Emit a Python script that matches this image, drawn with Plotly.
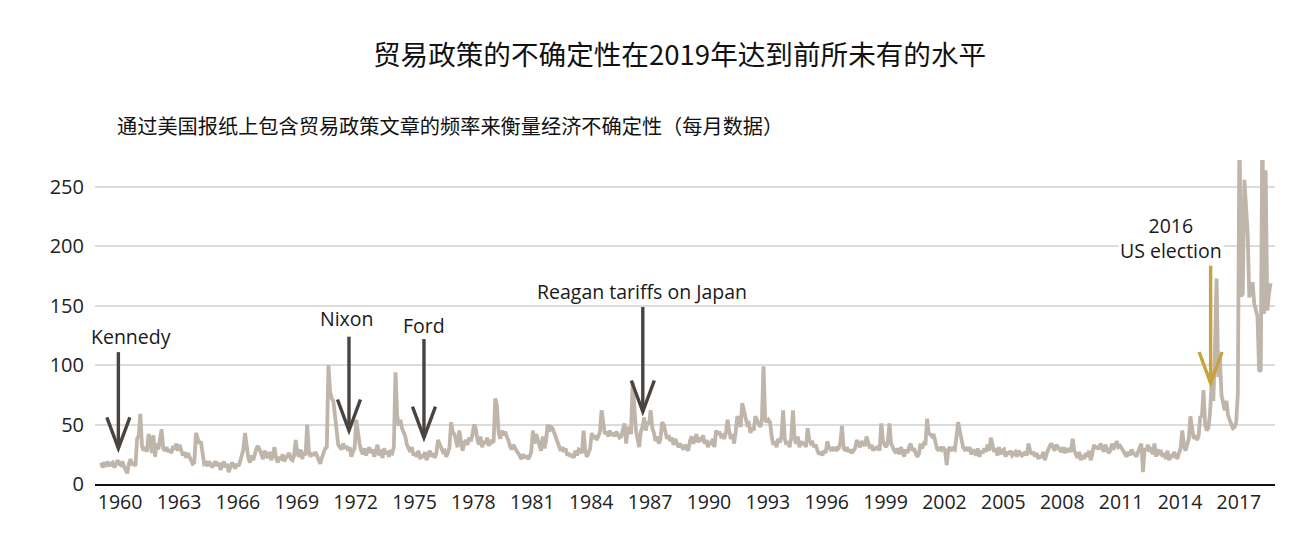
import plotly.graph_objects as go

# ---------------- data ----------------
start_year = 1960
# Trade policy uncertainty index, monthly, Jan 1960 onward
tpu = [
    18, 14, 17, 16, 19, 15, 17, 18, 14, 16, 20, 17,   # 1960
    16, 19, 15, 12, 9, 17, 21, 16, 18, 15, 38, 41,    # 1961
    59, 32, 28, 31, 27, 42, 38, 26, 41, 23, 34, 29,   # 1962
    36, 46, 30, 28, 31, 27, 29, 26, 32, 29, 34, 28,   # 1963
    33, 28, 24, 27, 22, 26, 22, 20, 17, 18, 43, 37,   # 1964
    34, 36, 24, 17, 18, 15, 19, 16, 14, 17, 19, 15,   # 1965
    18, 12, 16, 19, 14, 17, 10, 15, 18, 16, 13, 17,   # 1966
    15, 19, 26, 29, 43, 31, 22, 18, 24, 20, 26, 30,   # 1967
    32, 27, 25, 21, 28, 24, 22, 27, 20, 24, 31, 22,   # 1968
    18, 23, 20, 25, 19, 22, 24, 26, 21, 20, 24, 37,   # 1969
    26, 23, 29, 21, 27, 24, 50, 28, 23, 26, 24, 27,   # 1970
    24, 20, 17, 22, 26, 30, 31, 100, 78, 72, 70, 57,  # 1971
    42, 33, 31, 29, 34, 30, 32, 28, 31, 23, 27, 30,   # 1972
    54, 40, 34, 28, 25, 30, 24, 28, 31, 26, 29, 23,   # 1973
    27, 33, 24, 29, 22, 30, 25, 28, 23, 27, 26, 31,   # 1974
    94, 58, 49, 54, 47, 44, 40, 33, 30, 27, 31, 24,   # 1975
    26, 23, 28, 21, 25, 22, 27, 20, 24, 28, 23, 26,   # 1976
    22, 26, 37, 34, 30, 27, 28, 23, 26, 31, 52, 44,   # 1977
    42, 36, 31, 45, 38, 28, 34, 37, 33, 39, 36, 41,   # 1978
    50, 47, 38, 33, 40, 31, 36, 34, 39, 32, 37, 35,   # 1979
    36, 72, 66, 44, 38, 45, 41, 44, 40, 37, 32, 29,   # 1980
    33, 30, 28, 26, 23, 21, 25, 22, 24, 21, 23, 27,   # 1981
    45, 34, 42, 38, 33, 28, 40, 30, 36, 50, 44, 48,   # 1982
    47, 43, 40, 36, 32, 28, 31, 27, 30, 24, 26, 23,   # 1983
    25, 22, 28, 24, 29, 28, 26, 45, 28, 23, 26, 30,   # 1984
    43, 38, 41, 37, 40, 44, 62, 48, 42, 44, 40, 45,   # 1985
    41, 43, 40, 44, 42, 39, 40, 45, 51, 34, 46, 48,   # 1986
    42, 86, 58, 45, 38, 31, 44, 48, 56, 45, 52, 50,   # 1987
    62, 47, 43, 36, 40, 34, 38, 52, 50, 43, 38, 41,   # 1988
    36, 39, 33, 38, 35, 31, 34, 32, 29, 33, 30, 28,   # 1989
    36, 40, 34, 37, 42, 35, 39, 36, 41, 34, 37, 31,   # 1990
    36, 33, 38, 31, 45, 42, 44, 40, 41, 38, 43, 54,   # 1991
    45, 38, 42, 34, 44, 57, 54, 48, 68, 62, 55, 50,   # 1992
    51, 43, 47, 45, 57, 54, 50, 48, 53, 99, 55, 52,   # 1993
    54, 52, 40, 33, 36, 31, 38, 35, 40, 62, 38, 33,   # 1994
    36, 31, 40, 62, 38, 34, 40, 31, 36, 33, 35, 31,   # 1995
    47, 37, 34, 35, 31, 33, 28, 25, 27, 24, 28, 26,   # 1996
    36, 31, 29, 30, 28, 31, 29, 30, 35, 49, 30, 28,   # 1997
    31, 27, 29, 26, 28, 30, 37, 33, 31, 36, 34, 32,   # 1998
    40, 34, 30, 33, 28, 31, 29, 32, 28, 51, 37, 33,   # 1999
    31, 35, 51, 34, 30, 28, 26, 30, 25, 31, 27, 23,   # 2000
    29, 26, 31, 34, 28, 30, 26, 23, 25, 34, 30, 34,   # 2001
    33, 55, 43, 41, 40, 42, 34, 30, 28, 31, 29, 31,   # 2002
    28, 16, 29, 31, 28, 30, 29, 38, 52, 45, 37, 31,   # 2003
    29, 30, 28, 31, 25, 29, 27, 24, 30, 23, 28, 26,   # 2004
    30, 27, 33, 28, 39, 34, 27, 30, 24, 31, 25, 28,   # 2005
    29, 23, 27, 25, 28, 24, 26, 27, 23, 28, 26, 24,   # 2006
    25, 27, 24, 34, 28, 25, 27, 23, 26, 21, 24, 22,   # 2007
    27, 20, 25, 29, 32, 34, 30, 28, 33, 31, 29, 27,   # 2008
    31, 26, 29, 28, 30, 27, 38, 28, 25, 22, 27, 20,   # 2009
    24, 21, 26, 23, 28, 20, 25, 33, 30, 32, 29, 34,   # 2010
    31, 27, 33, 30, 26, 28, 34, 29, 33, 36, 31, 32,   # 2011
    30, 28, 26, 23, 27, 24, 29, 26, 25, 23, 27, 30,   # 2012
    34, 10, 30, 28, 33, 27, 31, 25, 34, 23, 29, 26,   # 2013
    27, 23, 26, 21, 28, 20, 25, 22, 27, 24, 21, 26,   # 2014
    30, 45, 33, 28, 34, 38, 57, 44, 38, 41, 37, 40,   # 2015
    57, 56, 79, 50, 45, 47, 60, 85, 70, 113, 173, 90, # 2016
    107, 75, 68, 62, 70, 58, 54, 50, 47, 48, 52, 76,  # 2017
    300, 158, 160, 256, 230, 211, 157, 163, 170, 152, 147, 141,  # 2018
    96, 95, 310, 143, 264, 146, 160, 169,             # 2019
]

tick_years = list(range(1960, 2018, 3))
y_ticks = [0, 50, 100, 150, 200, 250]

title_text = "贸易政策的不确定性在2019年达到前所未有的水平"
subtitle_text = "通过美国报纸上包含贸易政策文章的频率来衡量经济不确定性（每月数据）"

# annotated events: label, arrow x (decimal year), arrow tip value, arrow top value,
# label x, label y
event_labels = ["Kennedy", "Nixon", "Ford", "Reagan tariffs on Japan", "2016<br>US election"]
event_x = [1960.88, 1972.63, 1976.45, 1987.60, 2016.53]
event_tip = [30, 45, 39, 61, 85]
event_top = [111, 124, 122, 149, 184]
label_x = [1961.53, 1972.53, 1976.45, 1987.54, 2014.51]
label_y = [124, 139, 133, 162, 207]

# ---------------- styling ----------------
LINE_COLOR = "#bfb5ab"
ARROW_DARK = "#4a4441"
ARROW_GOLD = "#c8a23e"
event_colors = [ARROW_DARK, ARROW_DARK, ARROW_DARK, ARROW_DARK, ARROW_GOLD]
LATIN_FONT = "Open Sans, Noto Sans, sans-serif"
CJK_FONT = "Noto Sans CJK SC, sans-serif"

x_vals = [start_year + i / 12.0 for i in range(len(tpu))]

fig = go.Figure()
fig.add_trace(go.Scatter(
    x=x_vals, y=tpu, mode="lines",
    line=dict(color=LINE_COLOR, width=3.8),
    hoverinfo="skip", showlegend=False,
))

shapes = []
annotations = []
for lab, ex, tip, top, lx, ly, col in zip(event_labels, event_x, event_tip, event_top,
                                          label_x, label_y, event_colors):
    shapes.append(dict(type="line", xref="x", yref="y", x0=ex, x1=ex, y0=top, y1=tip,
                       line=dict(color=col, width=3.4), layer="above"))
    shapes.append(dict(type="path", xref="x", yref="y",
                       xsizemode="pixel", ysizemode="pixel",
                       xanchor=ex, yanchor=tip,
                       path="M -11.5,31 L 0,0 L 11.5,31",
                       line=dict(color=col, width=3.4), layer="above"))
    annotations.append(dict(x=lx, y=ly, xref="x", yref="y", text=lab, showarrow=False,
                            font=dict(family=LATIN_FONT, size=19.5, color="#1a1a1a"),
                            xanchor="center", yanchor="middle", align="center",
                            bgcolor="white" if "<br>" in lab else "rgba(0,0,0,0)"))

annotations.append(dict(x=0.017, y=1.108, xref="paper", yref="paper", text=subtitle_text,
                        showarrow=False, xanchor="left", yanchor="middle",
                        font=dict(family=CJK_FONT, size=20.2, color="#111111")))

# page body has an 8px margin, so the figure is sized to fit the 1312x550 window
fig.update_layout(
    width=1304, height=534,
    margin=dict(l=87, r=37, t=152, b=58),
    paper_bgcolor="white", plot_bgcolor="white",
    title=dict(text=title_text, x=0.515, y=0.912, xanchor="center", yanchor="middle",
               font=dict(family=CJK_FONT, size=27.6, color="#111111")),
    shapes=shapes,
    annotations=annotations,
    xaxis=dict(range=[1959.69, 2019.81], tickvals=[y + 0.97 for y in tick_years],
               ticktext=[str(y) for y in tick_years], showgrid=False, zeroline=False,
               showline=True, linecolor="#111111", linewidth=2, ticks="",
               tickfont=dict(family=LATIN_FONT, size=19.5, color="#222222")),
    yaxis=dict(range=[0, 272.7], tickvals=y_ticks, showgrid=True, gridcolor="#dcdcdc",
               gridwidth=1.5, zeroline=False, showline=False, ticks="",
               ticklabelstandoff=10,
               tickfont=dict(family=LATIN_FONT, size=20, color="#222222")),
)

fig.write_html("out.html")
